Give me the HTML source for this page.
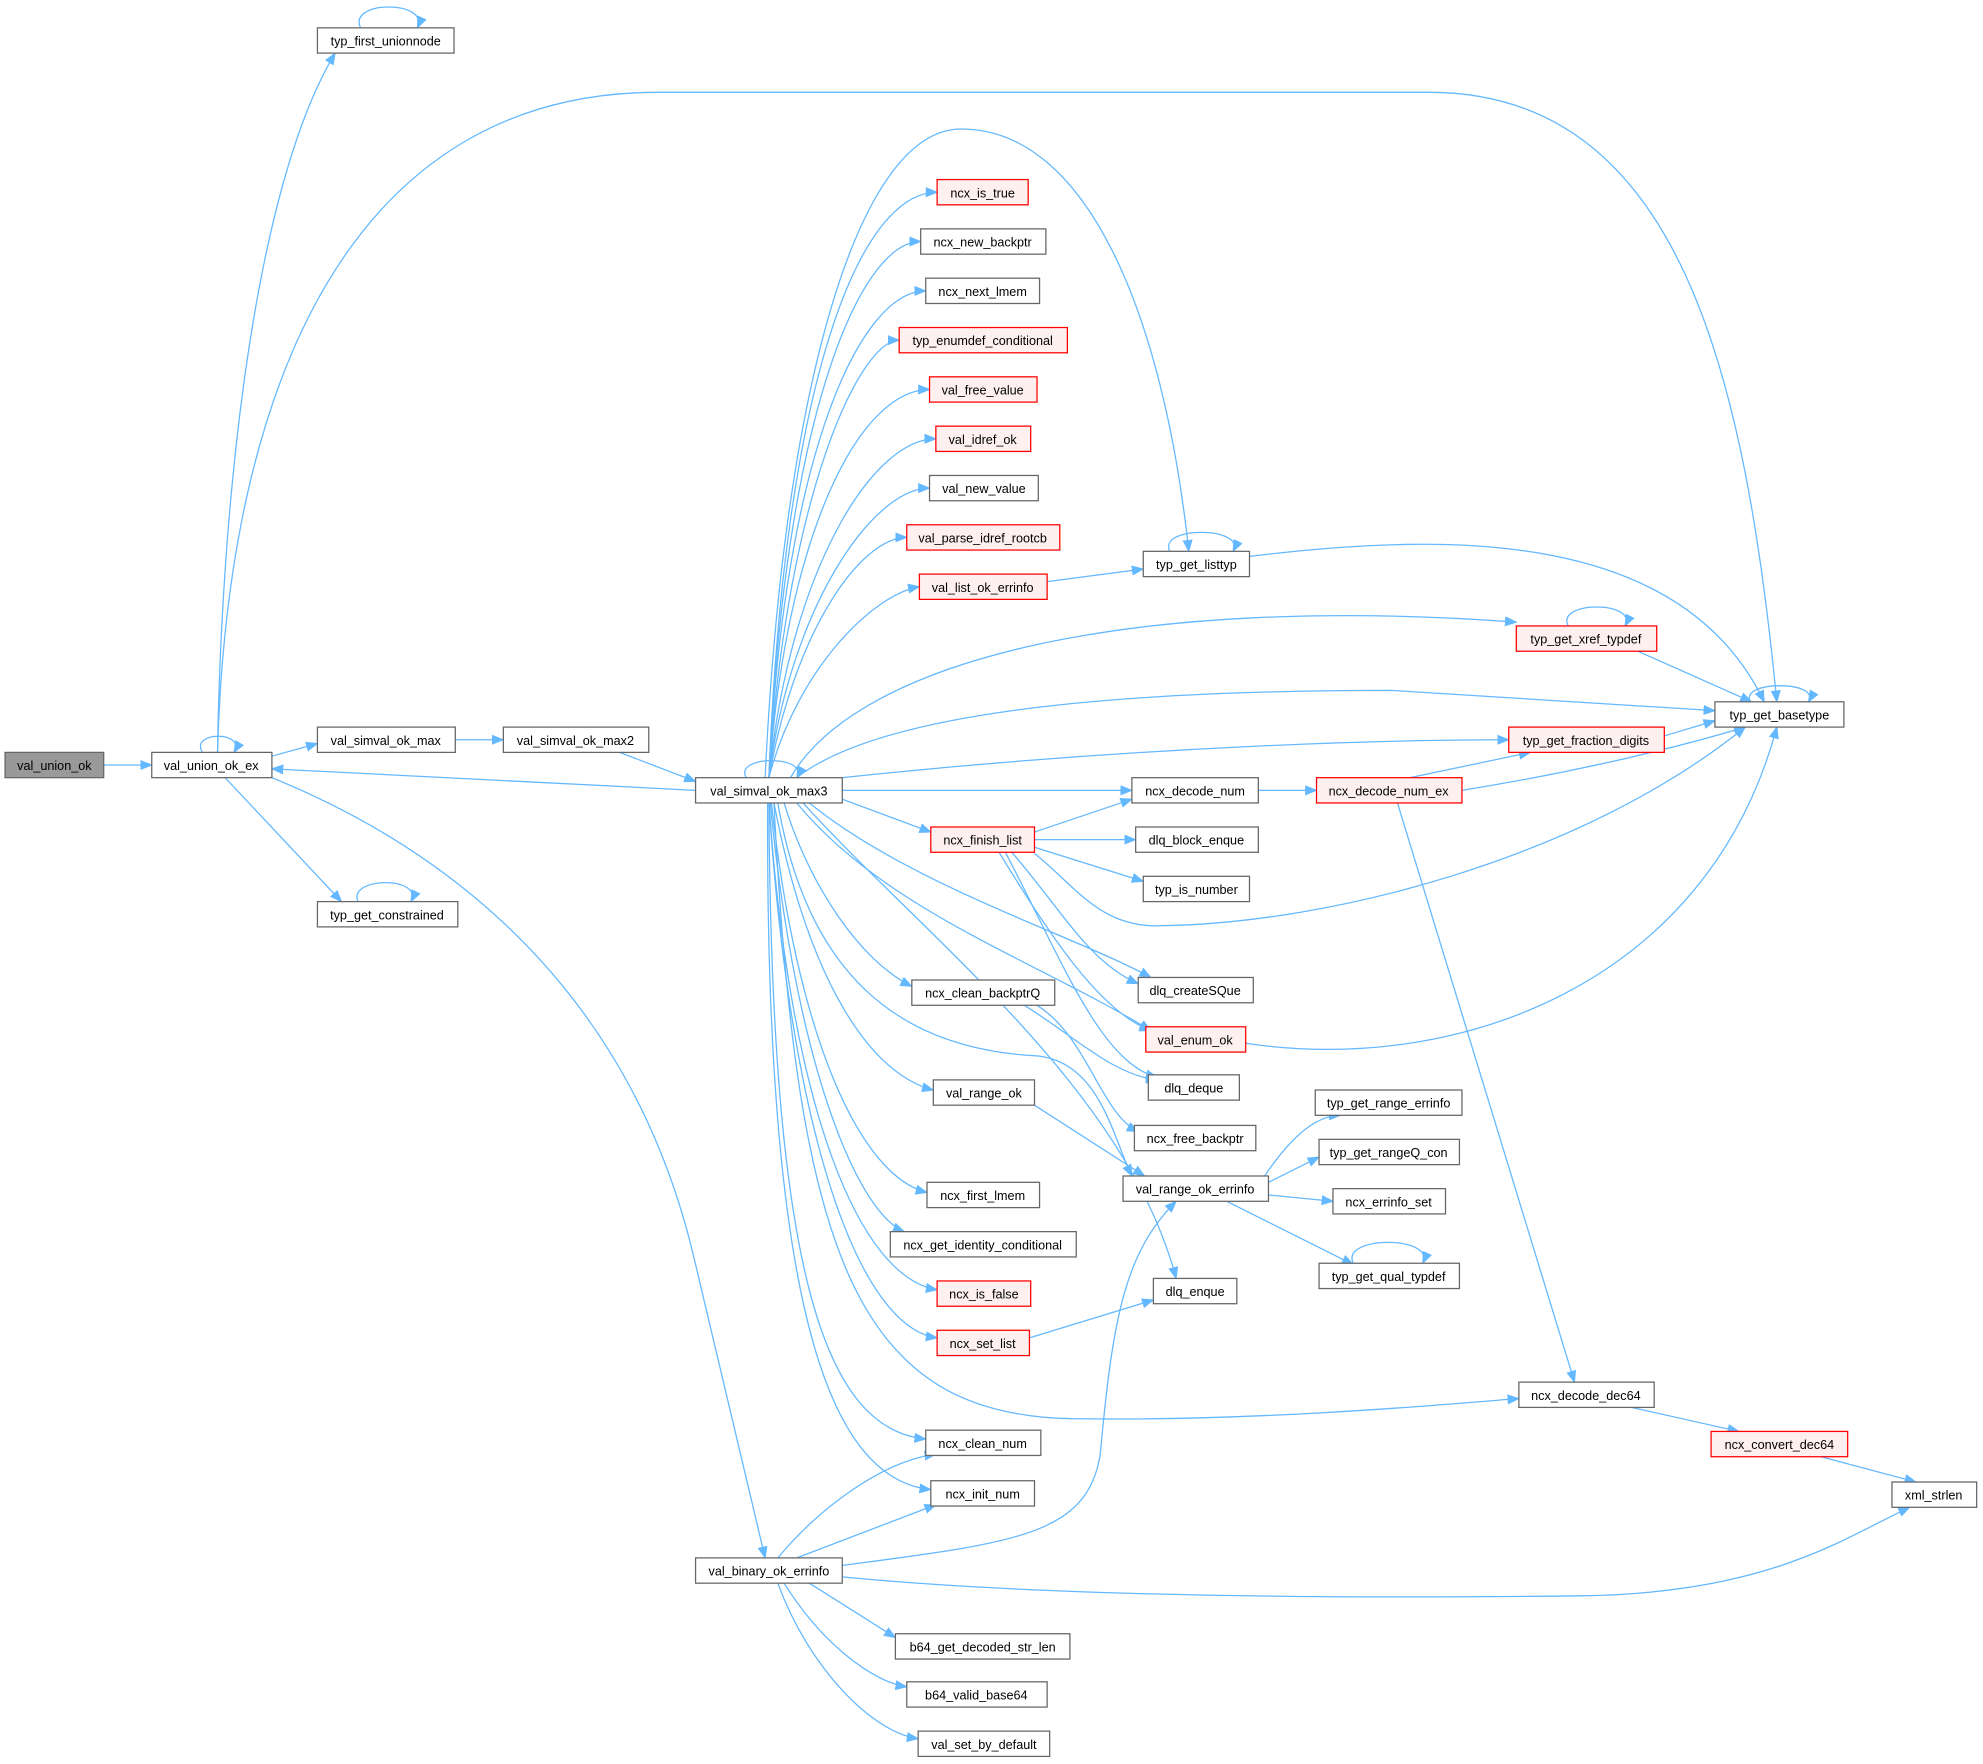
<!DOCTYPE html>
<html><head><meta charset="utf-8"><style>
html,body{margin:0;padding:0;background:#fff;}
svg{display:block}
text{font-family:"Liberation Sans",Arial,sans-serif;font-size:10px;text-anchor:middle;fill:#000}
.e{fill:none;stroke:#63b8ff;stroke-width:1;marker-end:url(#a)}
.n rect{fill:#fff;stroke:#666;stroke-width:1}
.r rect{fill:#fff0f0;stroke:#ff0000;stroke-width:1}
</style></head><body>
<svg width="1983" height="1764" viewBox="0 0 1568 1395" preserveAspectRatio="none" xmlns="http://www.w3.org/2000/svg">
<defs><marker id="a" markerUnits="userSpaceOnUse" markerWidth="10" markerHeight="8" refX="9" refY="4" orient="auto"><path d="M0,0 L10,4 L0,8 z" fill="#63b8ff"/></marker></defs>
<g>
<path class="e" d="M82,605 L120,605"/>
<path class="e" d="M160,595 C150,578 195,578 185,595"/>
<path class="e" d="M172,595 C175,400 200,150 265,42"/>
<path class="e" d="M172,595 C180,300 280,73 520,73 L1130,73 C1330,73 1380,300 1405,555"/>
<path class="e" d="M215,598 L251,588"/>
<path class="e" d="M360,585 L398,585"/>
<path class="e" d="M490,595 L550,618"/>
<path class="e" d="M550,625 L215,608"/>
<path class="e" d="M178,615 L270,713"/>
<path class="e" d="M283,713 C275,693 335,693 325,713"/>
<path class="e" d="M285,22 C275,0 340,0 330,22"/>
<path class="e" d="M215,615 C350,670 500,780 550,1000 L605,1232"/>
<path class="e" d="M590,615 C580,597 640,597 630,615"/>
<path class="e" d="M605,615 C620,300 680,102 760,102 C860,102 920,250 940,436"/>
<path class="e" d="M608,615 C620,300 680,152 741,152"/>
<path class="e" d="M608,615 C620,330 680,191 728,191"/>
<path class="e" d="M608,615 C620,360 680,230 732,230"/>
<path class="e" d="M608,615 C622,390 680,269 711,269"/>
<path class="e" d="M608,615 C622,420 680,308 735,308"/>
<path class="e" d="M608,615 C625,450 690,347 740,347"/>
<path class="e" d="M608,615 C625,480 690,386 735,386"/>
<path class="e" d="M608,615 C628,500 680,425 717,425"/>
<path class="e" d="M608,615 C630,530 690,470 727,464"/>
<path class="e" d="M625,615 C680,520 900,470 1199,492"/>
<path class="e" d="M630,615 C700,560 900,546 1100,546 L1356,562"/>
<path class="e" d="M666,615 C900,590 1100,585 1193,585"/>
<path class="e" d="M666,625 L895,625"/>
<path class="e" d="M666,632 L736,658"/>
<path class="e" d="M640,635 C720,700 850,740 910,773"/>
<path class="e" d="M630,635 C700,720 820,760 910,815"/>
<path class="e" d="M620,635 C640,700 680,760 721,780"/>
<path class="e" d="M615,635 C640,780 720,830 820,835 C870,840 880,900 895,930"/>
<path class="e" d="M612,635 C640,780 690,850 738,862"/>
<path class="e" d="M635,635 C730,740 890,860 930,1011"/>
<path class="e" d="M610,635 C630,820 680,930 733,943"/>
<path class="e" d="M609,635 C630,850 680,960 715,974"/>
<path class="e" d="M608,635 C625,880 680,1010 741,1020"/>
<path class="e" d="M608,635 C625,900 680,1050 741,1058"/>
<path class="e" d="M612,635 C630,1000 680,1120 850,1122 C1000,1124 1150,1110 1201,1106"/>
<path class="e" d="M608,635 C610,1000 650,1130 732,1138"/>
<path class="e" d="M607,635 C605,1050 660,1170 736,1178"/>
<path class="e" d="M818,658 L895,632"/>
<path class="e" d="M818,664 L898,664"/>
<path class="e" d="M818,670 L904,697"/>
<path class="e" d="M818,675 C850,700 870,735 920,732 C1050,730 1250,680 1380,575"/>
<path class="e" d="M800,674 C840,720 860,760 900,778"/>
<path class="e" d="M790,674 C830,740 870,800 910,815"/>
<path class="e" d="M795,674 C840,760 870,840 915,852"/>
<path class="e" d="M810,795 C850,820 880,850 915,854"/>
<path class="e" d="M820,795 C860,820 870,880 900,895"/>
<path class="e" d="M818,874 L905,930"/>
<path class="e" d="M828,460 L904,450"/>
<path class="e" d="M925,436 C915,416 985,416 975,436"/>
<path class="e" d="M988,440 C1150,420 1330,420 1395,555"/>
<path class="e" d="M1240,495 C1230,475 1295,475 1285,495"/>
<path class="e" d="M1295,515 L1385,555"/>
<path class="e" d="M1316,582 L1356,570"/>
<path class="e" d="M1384,555 C1375,538 1440,538 1430,555"/>
<path class="e" d="M995,625 L1041,625"/>
<path class="e" d="M1115,615 L1210,595"/>
<path class="e" d="M1156,625 C1250,610 1330,590 1380,575"/>
<path class="e" d="M1105,635 L1245,1093"/>
<path class="e" d="M985,825 C1150,850 1350,780 1405,575"/>
<path class="e" d="M1000,930 C1020,900 1040,882 1060,882"/>
<path class="e" d="M1003,935 L1043,915"/>
<path class="e" d="M1003,945 L1054,950"/>
<path class="e" d="M970,950 L1070,1000"/>
<path class="e" d="M1070,999 C1060,977 1135,977 1125,999"/>
<path class="e" d="M814,1058 L912,1028"/>
<path class="e" d="M1290,1113 L1375,1132"/>
<path class="e" d="M1440,1152 L1515,1172"/>
<path class="e" d="M615,1232 C650,1190 700,1155 740,1150"/>
<path class="e" d="M630,1232 L740,1190"/>
<path class="e" d="M666,1238 C800,1220 860,1215 870,1150 C880,1040 890,990 930,950"/>
<path class="e" d="M666,1247 C800,1260 1000,1265 1250,1262 C1400,1260 1460,1215 1510,1192"/>
<path class="e" d="M640,1252 L708,1295"/>
<path class="e" d="M620,1252 C650,1300 690,1330 717,1334"/>
<path class="e" d="M615,1252 C640,1320 690,1370 726,1375"/>
</g>
<g class="n"><rect x="4" y="595" width="78" height="20" style="fill:#999"/><text x="43" y="609">val_union_ok</text></g>
<g class="n"><rect x="120" y="595" width="95" height="20"/><text x="167" y="609">val_union_ok_ex</text></g>
<g class="n"><rect x="251" y="22" width="108" height="20"/><text x="305" y="36">typ_first_unionnode</text></g>
<g class="n"><rect x="251" y="575" width="109" height="20"/><text x="305" y="589">val_simval_ok_max</text></g>
<g class="n"><rect x="398" y="575" width="115" height="20"/><text x="455" y="589">val_simval_ok_max2</text></g>
<g class="n"><rect x="251" y="713" width="111" height="20"/><text x="306" y="727">typ_get_constrained</text></g>
<g class="n"><rect x="550" y="615" width="116" height="20"/><text x="608" y="629">val_simval_ok_max3</text></g>
<g class="n"><rect x="550" y="1232" width="116" height="20"/><text x="608" y="1246">val_binary_ok_errinfo</text></g>
<g class="r"><rect x="741" y="142" width="72" height="20"/><text x="777" y="156">ncx_is_true</text></g>
<g class="n"><rect x="728" y="181" width="99" height="20"/><text x="777" y="195">ncx_new_backptr</text></g>
<g class="n"><rect x="732" y="220" width="90" height="20"/><text x="777" y="234">ncx_next_lmem</text></g>
<g class="r"><rect x="711" y="259" width="133" height="20"/><text x="777" y="273">typ_enumdef_conditional</text></g>
<g class="r"><rect x="735" y="298" width="85" height="20"/><text x="777" y="312">val_free_value</text></g>
<g class="r"><rect x="740" y="337" width="75" height="20"/><text x="777" y="351">val_idref_ok</text></g>
<g class="n"><rect x="735" y="376" width="86" height="20"/><text x="778" y="390">val_new_value</text></g>
<g class="r"><rect x="717" y="415" width="121" height="20"/><text x="777" y="429">val_parse_idref_rootcb</text></g>
<g class="r"><rect x="727" y="454" width="101" height="20"/><text x="777" y="468">val_list_ok_errinfo</text></g>
<g class="r"><rect x="736" y="654" width="82" height="20"/><text x="777" y="668">ncx_finish_list</text></g>
<g class="n"><rect x="721" y="775" width="113" height="20"/><text x="777" y="789">ncx_clean_backptrQ</text></g>
<g class="n"><rect x="738" y="854" width="80" height="20"/><text x="778" y="868">val_range_ok</text></g>
<g class="n"><rect x="733" y="935" width="89" height="20"/><text x="777" y="949">ncx_first_lmem</text></g>
<g class="n"><rect x="704" y="974" width="147" height="20"/><text x="777" y="988">ncx_get_identity_conditional</text></g>
<g class="r"><rect x="741" y="1013" width="74" height="20"/><text x="778" y="1027">ncx_is_false</text></g>
<g class="r"><rect x="741" y="1052" width="73" height="20"/><text x="777" y="1066">ncx_set_list</text></g>
<g class="n"><rect x="732" y="1131" width="91" height="20"/><text x="777" y="1145">ncx_clean_num</text></g>
<g class="n"><rect x="736" y="1171" width="82" height="20"/><text x="777" y="1185">ncx_init_num</text></g>
<g class="n"><rect x="708" y="1292" width="138" height="20"/><text x="777" y="1306">b64_get_decoded_str_len</text></g>
<g class="n"><rect x="717" y="1330" width="111" height="20"/><text x="772" y="1344">b64_valid_base64</text></g>
<g class="n"><rect x="726" y="1369" width="104" height="20"/><text x="778" y="1383">val_set_by_default</text></g>
<g class="n"><rect x="904" y="436" width="84" height="20"/><text x="946" y="450">typ_get_listtyp</text></g>
<g class="n"><rect x="895" y="615" width="100" height="20"/><text x="945" y="629">ncx_decode_num</text></g>
<g class="n"><rect x="898" y="654" width="97" height="20"/><text x="946" y="668">dlq_block_enque</text></g>
<g class="n"><rect x="904" y="693" width="84" height="20"/><text x="946" y="707">typ_is_number</text></g>
<g class="n"><rect x="900" y="773" width="91" height="20"/><text x="945" y="787">dlq_createSQue</text></g>
<g class="r"><rect x="906" y="812" width="79" height="20"/><text x="945" y="826">val_enum_ok</text></g>
<g class="n"><rect x="908" y="850" width="72" height="20"/><text x="944" y="864">dlq_deque</text></g>
<g class="n"><rect x="897" y="890" width="96" height="20"/><text x="945" y="904">ncx_free_backptr</text></g>
<g class="n"><rect x="888" y="930" width="115" height="20"/><text x="945" y="944">val_range_ok_errinfo</text></g>
<g class="n"><rect x="912" y="1011" width="66" height="20"/><text x="945" y="1025">dlq_enque</text></g>
<g class="r"><rect x="1199" y="495" width="111" height="20"/><text x="1254" y="509">typ_get_xref_typdef</text></g>
<g class="r"><rect x="1193" y="575" width="123" height="20"/><text x="1254" y="589">typ_get_fraction_digits</text></g>
<g class="r"><rect x="1041" y="615" width="115" height="20"/><text x="1098" y="629">ncx_decode_num_ex</text></g>
<g class="n"><rect x="1356" y="555" width="102" height="20"/><text x="1407" y="569">typ_get_basetype</text></g>
<g class="n"><rect x="1040" y="862" width="116" height="20"/><text x="1098" y="876">typ_get_range_errinfo</text></g>
<g class="n"><rect x="1043" y="901" width="111" height="20"/><text x="1098" y="915">typ_get_rangeQ_con</text></g>
<g class="n"><rect x="1054" y="940" width="89" height="20"/><text x="1098" y="954">ncx_errinfo_set</text></g>
<g class="n"><rect x="1043" y="999" width="111" height="20"/><text x="1098" y="1013">typ_get_qual_typdef</text></g>
<g class="n"><rect x="1201" y="1093" width="107" height="20"/><text x="1254" y="1107">ncx_decode_dec64</text></g>
<g class="r"><rect x="1353" y="1132" width="108" height="20"/><text x="1407" y="1146">ncx_convert_dec64</text></g>
<g class="n"><rect x="1496" y="1172" width="67" height="20"/><text x="1529" y="1186">xml_strlen</text></g>
</svg>
</body></html>
